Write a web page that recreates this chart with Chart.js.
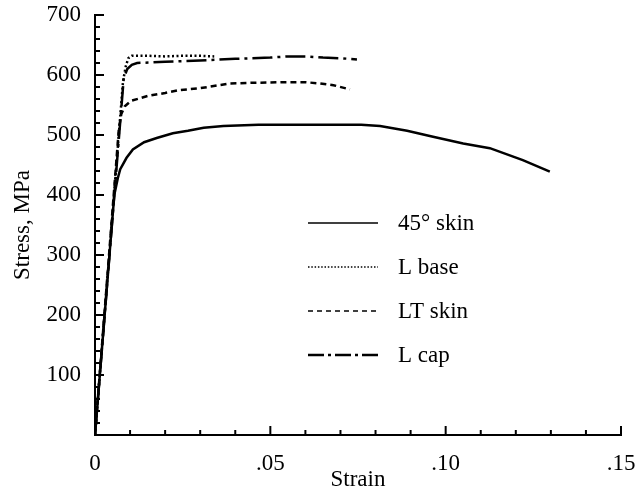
<!DOCTYPE html>
<html>
<head>
<meta charset="utf-8">
<script src="https://cdn.jsdelivr.net/npm/chart.js@4/dist/chart.umd.min.js"></script>
<style>
  html, body { margin: 0; padding: 0; background: #fff; }
</style>
</head>
<body>
<canvas id="canvas1" width="642" height="494"></canvas>
<script>
// stress-strain curves (strain, MPa)
var skin45Strain = [0, 0.0055, 0.0065, 0.0072, 0.009, 0.0108, 0.014, 0.0176, 0.0222, 0.0265, 0.031, 0.0366, 0.0466, 0.06, 0.0759, 0.0813, 0.089, 0.0964, 0.105, 0.1126, 0.122, 0.1297];
var skin45Stress = [0, 400, 428, 443, 462, 476, 488, 495, 503, 507, 512, 515, 517, 517, 517, 515, 507, 497, 486, 478, 458, 439];

var lBaseStrain = [0, 0.0080, 0.0088, 0.0095, 0.0105, 0.015, 0.02, 0.025, 0.03, 0.034];
var lBaseStress = [0, 590, 615, 628, 632, 632, 631, 632, 632, 631];

var ltSkinStrain = [0, 0.0068, 0.0075, 0.0085, 0.0103, 0.015, 0.02, 0.0242, 0.03, 0.0385, 0.045, 0.053, 0.06, 0.064, 0.068, 0.0727];
var ltSkinStress = [0, 510, 535, 548, 557, 565, 570, 575, 578, 586, 587, 588, 588, 586, 583, 576];

var lCapStrain = [0, 0.0082, 0.0092, 0.0105, 0.012, 0.02, 0.03, 0.04, 0.05, 0.055, 0.06, 0.065, 0.07, 0.0747];
var lCapStress = [0, 595, 610, 617, 620, 622, 624, 627, 629, 631, 631, 629, 628, 626];

var seriesNames = ["45\u00b0 skin", "L base", "LT skin", "L cap"];

var xMax = 0.15, xStep = 0.05, xMinor = 0.01;
var yMax = 700, yStep = 100, yMinor = 20;

function pts(xs, ys) {
  var out = [];
  for (var i = 0; i < xs.length; i++) out.push({x: xs[i], y: ys[i]});
  return out;
}

var FONT = "'Liberation Serif', 'Times New Roman', serif";
var FSIZE = 23;

// legend line styles (thinner than the curves)
var legendDash = [[], [1.5, 1.8], [5, 4], [16, 4, 3, 4]];
var legendWidth = [1.5, 1.5, 1.5, 2.5];

var insideTicks = {
  id: 'insideTicks',
  afterDraw: function(chart) {
    var ctx = chart.ctx, xs = chart.scales.x, ys = chart.scales.y;
    var ca = chart.chartArea;
    ctx.save();
    ctx.strokeStyle = '#000';
    ctx.lineWidth = 2;
    var n = Math.round(xMax / xMinor);
    for (var i = 1; i <= n; i++) {
      var v = i * xMinor;
      var px = xs.getPixelForValue(v);
      var len = (i % 5 === 0) ? 9 : 5;
      ctx.beginPath(); ctx.moveTo(px, ca.bottom); ctx.lineTo(px, ca.bottom - len); ctx.stroke();
    }
    var m = Math.round(yMax / yMinor);
    for (var j = 1; j <= m; j++) {
      var py = ys.getPixelForValue(j * yMinor);
      var l2 = (j % 5 === 0) ? 9 : 5;
      ctx.beginPath(); ctx.moveTo(ca.left, py); ctx.lineTo(ca.left + l2, py); ctx.stroke();
    }

    // legend
    var lx = 308, lw = 70, tx = 398, ly = 223, gap = 44;
    ctx.font = FSIZE + 'px ' + FONT;
    ctx.fillStyle = '#000';
    ctx.textBaseline = 'middle';
    chart.data.datasets.forEach(function(ds, k) {
      var y = ly + k * gap;
      ctx.beginPath();
      ctx.lineWidth = legendWidth[k];
      ctx.setLineDash(legendDash[k]);
      ctx.moveTo(lx, y); ctx.lineTo(lx + lw, y); ctx.stroke();
      ctx.setLineDash([]);
      ctx.fillText(ds.label, tx, y + 1);
    });
    ctx.restore();
  }
};

new Chart(document.getElementById("canvas1"), {
  type: 'line',
  data: {
    datasets: [
      { label: seriesNames[0], data: pts(skin45Strain, skin45Stress), borderDash: [] },
      { label: seriesNames[1], data: pts(lBaseStrain, lBaseStress), borderDash: [2, 2.5] },
      { label: seriesNames[2], data: pts(ltSkinStrain, ltSkinStress), borderDash: [6, 4] },
      { label: seriesNames[3], data: pts(lCapStrain, lCapStress), borderDash: [20, 5, 3, 5] }
    ].map(function(d) {
      d.borderColor = '#000';
      d.borderWidth = 2.5;
      d.pointRadius = 0;
      d.tension = 0;
      d.fill = false;
      return d;
    })
  },
  options: {
    responsive: false,
    animation: false,
    events: [],
    layout: { padding: { left: 0, top: 15, right: 21, bottom: 0 } },
    plugins: { legend: { display: false }, tooltip: { enabled: false } },
    scales: {
      x: {
        type: 'linear',
        min: 0, max: xMax,
        grid: { display: false, drawTicks: false },
        border: { display: true, color: '#000', width: 2 },
        ticks: {
          stepSize: xStep,
          color: '#000',
          font: { family: FONT, size: FSIZE },
          padding: 15,
          maxRotation: 0,
          callback: function(v) {
            if (Math.abs(v) < 1e-9) return '0';
            return v.toFixed(2).replace(/^0/, '');
          }
        },
        title: { display: true, text: 'Strain', color: '#000', font: { family: FONT, size: FSIZE }, padding: { top: 0, bottom: 0 } },
        afterFit: function(s) { s.height = 59; s.paddingLeft = 0; s.paddingRight = 0; }
      },
      y: {
        min: 0, max: yMax,
        grid: { display: false, drawTicks: false },
        border: { display: true, color: '#000', width: 2 },
        ticks: {
          stepSize: yStep,
          color: '#000',
          font: { family: FONT, size: FSIZE },
          padding: 14,
          callback: function(v) { return v === 0 ? '' : String(v); }
        },
        title: { display: true, text: 'Stress, MPa', color: '#000', font: { family: FONT, size: FSIZE }, padding: { top: 9, bottom: 0 } },
        afterFit: function(s) { s.width = 95; s.paddingTop = 0; s.paddingBottom = 0; }
      }
    }
  },
  plugins: [insideTicks]
});
</script>
</body>
</html>
